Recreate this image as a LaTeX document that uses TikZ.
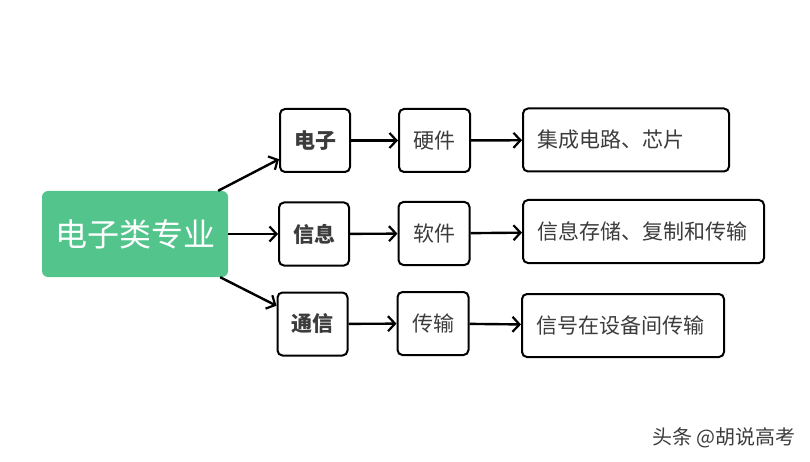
\documentclass[tikz,border=0pt]{standalone}
\usepackage{fontspec}
\setmainfont{Noto Sans CJK SC}
\usetikzlibrary{arrows.meta}

\definecolor{rootgreen}{HTML}{52C48C}
\definecolor{textgray}{HTML}{3C3C3C}

\tikzset{
  box/.style={draw=black, line width=2pt, rounded corners=5pt, fill=white,
    text=textgray, font=\fontsize{21}{25}\selectfont,
    minimum height=63pt, inner sep=0pt},
  field/.style={box, minimum width=70pt, font=\fontsize{21}{25}\selectfont\bfseries},
  part/.style={box, minimum width=71pt},
  leaf/.style={box, anchor=west, align=left, inner xsep=14pt},
  arr/.style={line width=2.4pt, -{Straight Barb[length=7pt,width=15pt,line width=2.2pt]}}
}

\begin{document}
\begin{tikzpicture}[x=1pt,y=-1pt]
  \useasboundingbox (0,0) rectangle (810,462);
  % Root
  \node[fill=rootgreen, rounded corners=6pt, minimum width=186pt, minimum height=86pt,
    text=white, font=\fontsize{32}{36}\selectfont] (root) at (135,234) {电子类专业};
  % Fields
  \node[field] (dz) at (315,140.5) {电子};
  \node[field] (xx) at (314,234) {信息};
  \node[field] (tx) at (312.5,324) {通信};
  % Parts
  \node[part] (yj) at (434.5,140.5) {硬件};
  \node[part] (rj) at (434,233.5) {软件};
  \node[part] (cs) at (433,323.5) {传输};
  % Leaves
  \node[leaf, text width=178pt] (jc) at (522,140) {集成电路、芯片};
  \node[leaf, text width=213pt] (cc) at (522,231.5) {信息存储、复制和传输};
  \node[leaf, text width=174pt] (xh) at (521,325.5) {信号在设备间传输};
  % Connectors
  \draw[arr] (root) -- (dz);
  \draw[arr] (root) -- (xx);
  \draw[arr] (root) -- (tx);
  \draw[arr] (dz) -- (yj);
  \draw[arr] (xx) -- (rj);
  \draw[arr] (tx) -- (cs);
  \draw[arr] (yj) -- (jc);
  \draw[arr] (rj) -- (cc);
  \draw[arr] (cs) -- (xh);
  % Watermark
  \node[text=textgray, font=\fontsize{20}{24}\selectfont, anchor=east, inner sep=0pt] (mark) at (796,438) {头条 @胡说高考};
\end{tikzpicture}
\end{document}
